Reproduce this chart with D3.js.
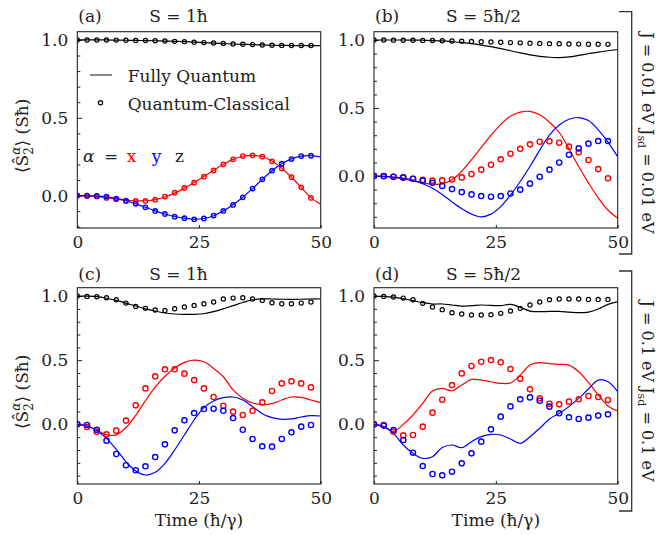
<!DOCTYPE html>
<html>
<head>
<meta charset="utf-8">
<script src="https://cdn.jsdelivr.net/npm/d3@7"></script>
<style>
  body { margin: 0; background: #fff; }
  svg { display: block; }
  text { font-family: "DejaVu Serif", serif; fill: #222; }
</style>
</head>
<body>
<svg id="chart" width="659" height="535"></svg>
<script>
// Sampling times (ħ/γ): markers every 2, curves up to 50
const timeMarks = [0, 2, 4, 6, 8, 10, 12, 14, 16, 18, 20, 22, 24, 26, 28, 30, 32, 34, 36, 38, 40, 42, 44, 46, 48];
const timeLine  = [0, 2, 4, 6, 8, 10, 12, 14, 16, 18, 20, 22, 24, 26, 28, 30, 32, 34, 36, 38, 40, 42, 44, 46, 48, 50];
const xTicks = [0, 25, 50];
const yMajorTicks = [0, 0.5, 1];
const panelLetters = ["(a)", "(b)", "(c)", "(d)"];
const panelTitles = ["S = 1ħ", "S = 5ħ/2", "S = 1ħ", "S = 5ħ/2"];
const componentNames = ["x", "y", "z"];
const legendLabels = ["Fully Quantum", "Quantum-Classical"];
const couplingLabels = [["J = 0.01 eV J", "sd", " = 0.01 eV"], ["J = 0.1 eV J", "sd", " = 0.1 eV"]];

// (a) J = 0.01 eV, S = 1ħ — fully quantum curves
const aLineX = [0, -0.002, -0.006, -0.013, -0.022, -0.029, -0.033, -0.033, -0.026, -0.009, 0.016, 0.048, 0.084, 0.123, 0.163, 0.201, 0.233, 0.253, 0.259, 0.251, 0.222, 0.176, 0.118, 0.053, -0.013, -0.055];
const aLineY = [0, 0, -0.003, -0.008, -0.018, -0.033, -0.053, -0.075, -0.098, -0.118, -0.134, -0.145, -0.151, -0.147, -0.129, -0.098, -0.058, -0.01, 0.045, 0.104, 0.16, 0.205, 0.236, 0.254, 0.257, 0.248];
const aLineZ = [1.0, 1.0, 1.0, 1.0, 0.999, 0.998, 0.997, 0.996, 0.995, 0.993, 0.991, 0.989, 0.986, 0.983, 0.98, 0.977, 0.974, 0.972, 0.97, 0.968, 0.966, 0.965, 0.964, 0.964, 0.964, 0.964];
// (a) quantum-classical markers
const aMarkX = [0, -0.002, -0.005, -0.015, -0.024, -0.032, -0.034, -0.034, -0.026, -0.006, 0.019, 0.049, 0.083, 0.122, 0.162, 0.201, 0.233, 0.254, 0.259, 0.25, 0.22, 0.175, 0.118, 0.053, -0.015];
const aMarkY = [0, 0, -0.002, -0.006, -0.019, -0.034, -0.053, -0.075, -0.098, -0.118, -0.135, -0.145, -0.152, -0.147, -0.128, -0.098, -0.06, -0.011, 0.045, 0.105, 0.16, 0.205, 0.235, 0.254, 0.256];
const aMarkZ = [1.0, 1.0, 1.0, 1.0, 0.999, 0.998, 0.997, 0.996, 0.995, 0.993, 0.991, 0.989, 0.986, 0.983, 0.98, 0.977, 0.974, 0.972, 0.97, 0.968, 0.966, 0.965, 0.964, 0.964, 0.964];

// (b) J = 0.01 eV, S = 5ħ/2
const bLineX = [0, -0.003, -0.01, -0.022, -0.036, -0.05, -0.06, -0.058, -0.028, 0.035, 0.12, 0.21, 0.3, 0.38, 0.44, 0.47, 0.475, 0.45, 0.395, 0.32, 0.2, 0.07, -0.05, -0.16, -0.25, -0.31];
const bLineY = [0, -0.002, -0.007, -0.015, -0.03, -0.057, -0.09, -0.135, -0.19, -0.24, -0.28, -0.3, -0.28, -0.225, -0.14, -0.04, 0.07, 0.19, 0.3, 0.375, 0.417, 0.43, 0.408, 0.34, 0.25, 0.142];
const bLineZ = [1.0, 1.0, 1.0, 1.0, 0.999, 0.998, 0.996, 0.993, 0.988, 0.982, 0.973, 0.963, 0.951, 0.937, 0.921, 0.905, 0.891, 0.88, 0.873, 0.871, 0.876, 0.887, 0.899, 0.911, 0.921, 0.93];
const bMarkX = [0, -0.002, -0.005, -0.012, -0.02, -0.028, -0.034, -0.032, -0.025, -0.01, 0.015, 0.047, 0.083, 0.123, 0.164, 0.2, 0.233, 0.252, 0.255, 0.245, 0.216, 0.174, 0.118, 0.051, -0.017];
const bMarkY = [0, 0, -0.005, -0.01, -0.02, -0.034, -0.05, -0.073, -0.096, -0.118, -0.135, -0.147, -0.152, -0.147, -0.128, -0.1, -0.056, -0.005, 0.047, 0.1, 0.157, 0.203, 0.238, 0.257, 0.257];
const bMarkZ = [1.0, 1.0, 0.999, 0.998, 0.998, 0.997, 0.996, 0.995, 0.993, 0.991, 0.989, 0.987, 0.985, 0.983, 0.981, 0.979, 0.977, 0.975, 0.973, 0.972, 0.971, 0.97, 0.969, 0.969, 0.968];

// (c) J = 0.1 eV, S = 1ħ
const cLineX = [0, -0.013, -0.045, -0.082, -0.082, -0.025, 0.07, 0.185, 0.29, 0.375, 0.44, 0.483, 0.5, 0.488, 0.436, 0.371, 0.268, 0.203, 0.166, 0.153, 0.161, 0.19, 0.213, 0.21, 0.19, 0.169];
const cLineY = [0, -0.013, -0.049, -0.109, -0.195, -0.291, -0.364, -0.395, -0.374, -0.304, -0.2, -0.083, 0.034, 0.13, 0.182, 0.208, 0.213, 0.19, 0.138, 0.083, 0.052, 0.039, 0.042, 0.057, 0.068, 0.065];
const cLineZ = [1.0, 0.999, 0.995, 0.983, 0.966, 0.945, 0.922, 0.9, 0.883, 0.868, 0.86, 0.857, 0.857, 0.862, 0.878, 0.9, 0.925, 0.95, 0.971, 0.978, 0.977, 0.975, 0.974, 0.975, 0.977, 0.977];
const cMarkX = [0, -0.021, -0.057, -0.078, -0.049, 0.029, 0.148, 0.28, 0.374, 0.429, 0.429, 0.395, 0.345, 0.28, 0.213, 0.145, 0.099, 0.073, 0.106, 0.171, 0.26, 0.319, 0.335, 0.319, 0.288];
const cMarkY = [0, -0.005, -0.042, -0.127, -0.231, -0.319, -0.358, -0.327, -0.255, -0.156, -0.047, 0.031, 0.088, 0.119, 0.122, 0.106, 0.049, -0.042, -0.114, -0.171, -0.174, -0.114, -0.062, -0.018, -0.005];
const cMarkZ = [1.0, 0.997, 0.995, 0.987, 0.971, 0.945, 0.919, 0.904, 0.891, 0.888, 0.901, 0.914, 0.927, 0.94, 0.953, 0.977, 0.984, 0.987, 0.977, 0.966, 0.948, 0.94, 0.94, 0.945, 0.953];

// (d) J = 0.1 eV, S = 5ħ/2
const dLineX = [0, -0.018, -0.055, 0.0, 0.073, 0.164, 0.26, 0.28, 0.262, 0.306, 0.35, 0.345, 0.332, 0.32, 0.322, 0.384, 0.462, 0.481, 0.473, 0.468, 0.462, 0.41, 0.327, 0.229, 0.143, 0.104];
const dLineY = [0, -0.018, -0.07, -0.161, -0.226, -0.265, -0.252, -0.18, -0.161, -0.182, -0.135, -0.096, -0.078, -0.083, -0.114, -0.148, -0.096, -0.031, 0.042, 0.086, 0.138, 0.203, 0.275, 0.345, 0.332, 0.255];
const dLineZ = [1.0, 0.997, 0.992, 0.979, 0.964, 0.948, 0.938, 0.938, 0.93, 0.922, 0.925, 0.93, 0.927, 0.925, 0.935, 0.912, 0.883, 0.878, 0.88, 0.88, 0.875, 0.87, 0.875, 0.899, 0.935, 0.956];
const dMarkX = [0, -0.005, -0.057, -0.086, -0.083, -0.018, 0.091, 0.192, 0.306, 0.397, 0.455, 0.488, 0.501, 0.483, 0.431, 0.356, 0.273, 0.203, 0.161, 0.156, 0.177, 0.195, 0.221, 0.213, 0.19];
const dMarkY = [0, -0.01, -0.044, -0.122, -0.221, -0.325, -0.387, -0.397, -0.369, -0.304, -0.226, -0.135, -0.039, 0.06, 0.14, 0.195, 0.21, 0.184, 0.138, 0.086, 0.055, 0.042, 0.052, 0.068, 0.078];
const dMarkZ = [1.0, 0.997, 0.992, 0.984, 0.971, 0.943, 0.914, 0.894, 0.87, 0.86, 0.852, 0.852, 0.855, 0.865, 0.883, 0.904, 0.93, 0.953, 0.971, 0.977, 0.977, 0.977, 0.974, 0.974, 0.974];

const colors = { x: "#ff0000", y: "#0000ff", z: "#000000" };

const svg = d3.select("#chart");
const FS = 17;

// panel geometry
const panels = [
  { left: 77.3, right: 320.7, top: 31.7, bottom: 228, yDomain: [-0.208, 1.053], titleY: 22,
    lines: { x: aLineX, y: aLineY, z: aLineZ }, marks: { x: aMarkX, y: aMarkY, z: aMarkZ }, r: 2.2, yLabel: true, xLabel: false },
  { left: 374, right: 617.7, top: 31.7, bottom: 228, yDomain: [-0.382, 1.061], titleY: 22,
    lines: { x: bLineX, y: bLineY, z: bLineZ }, marks: { x: bMarkX, y: bMarkY, z: bMarkZ }, r: 2.6, yLabel: false, xLabel: false },
  { left: 77.3, right: 320.7, top: 287.7, bottom: 484, yDomain: [-0.465, 1.065], titleY: 280,
    lines: { x: cLineX, y: cLineY, z: cLineZ }, marks: { x: cMarkX, y: cMarkY, z: cMarkZ }, r: 2.6, yLabel: true, xLabel: true },
  { left: 374, right: 617.7, top: 287.7, bottom: 484, yDomain: [-0.465, 1.065], titleY: 280,
    lines: { x: dLineX, y: dLineY, z: dLineZ }, marks: { x: dMarkX, y: dMarkY, z: dMarkZ }, r: 2.6, yLabel: false, xLabel: true }
];

panels.forEach((p, i) => {
  const x = d3.scaleLinear().domain([0, 50]).range([p.left, p.right]);
  const y = d3.scaleLinear().domain(p.yDomain).range([p.bottom, p.top]);
  const g = svg.append("g");

  const clipId = "clip" + i;
  g.append("clipPath").attr("id", clipId)
    .append("rect").attr("x", p.left).attr("y", p.top)
    .attr("width", p.right - p.left).attr("height", p.bottom - p.top);

  // minor y ticks every 0.1
  const minor = d3.range(Math.ceil(p.yDomain[0] * 10), Math.floor(p.yDomain[1] * 10) + 1)
    .map(k => k / 10).filter(v => !yMajorTicks.some(m => Math.abs(m - v) < 1e-9));
  g.append("g").attr("transform", `translate(${p.left},0)`)
    .call(d3.axisLeft(y).tickValues(minor).tickSizeInner(-3).tickSizeOuter(0).tickFormat(""))
    .call(a => a.select(".domain").remove())
    .call(a => a.selectAll("line").attr("stroke", "#222"));

  // major y ticks with labels
  g.append("g").attr("transform", `translate(${p.left},0)`)
    .call(d3.axisLeft(y).tickValues(yMajorTicks).tickSizeInner(-5).tickSizeOuter(0)
      .tickPadding(9).tickFormat(d3.format(".1f")))
    .call(a => a.select(".domain").remove())
    .call(a => a.selectAll("line").attr("stroke", "#222"))
    .call(a => a.selectAll("text").attr("font-size", FS).attr("font-family", "DejaVu Serif").attr("fill", "#222"));

  // x ticks
  g.append("g").attr("transform", `translate(0,${p.bottom})`)
    .call(d3.axisBottom(x).tickValues(xTicks).tickSizeInner(-3).tickSizeOuter(0).tickPadding(8))
    .call(a => a.select(".domain").remove())
    .call(a => a.selectAll("line").attr("stroke", "#222"))
    .call(a => a.selectAll("text").attr("font-size", FS).attr("font-family", "DejaVu Serif").attr("fill", "#222"));

  // data
  const plot = g.append("g").attr("clip-path", `url(#${clipId})`);
  const line = d3.line().x((d, k) => x(timeLine[k])).y(d => y(d)).curve(d3.curveCatmullRom);
  ["z", "x", "y"].forEach(c => {
    plot.append("path").attr("d", line(p.lines[c]))
      .attr("fill", "none").attr("stroke", colors[c]).attr("stroke-width", 1.2);
  });
  ["z", "x", "y"].forEach(c => {
    const r = c === "z" ? 2.1 : p.r;
    plot.append("g").selectAll("circle").data(p.marks[c]).join("circle")
      .attr("cx", (d, k) => x(timeMarks[k])).attr("cy", d => y(d)).attr("r", r)
      .attr("fill", "none").attr("stroke", colors[c]).attr("stroke-width", c === "z" ? 1.2 : 1.4);
  });

  // frame
  g.append("rect").attr("x", p.left).attr("y", p.top)
    .attr("width", p.right - p.left).attr("height", p.bottom - p.top)
    .attr("fill", "none").attr("stroke", "#222").attr("stroke-width", 1.1);

  // titles
  g.append("text").attr("x", p.left + 1).attr("y", p.titleY).attr("font-size", FS).text(panelLetters[i]);
  g.append("text").attr("x", p.left + 72).attr("y", p.titleY).attr("font-size", FS).text(panelTitles[i]);

  if (p.yLabel) {
    const cy = (p.top + p.bottom) / 2 + 6;
    const t = g.append("text").attr("transform", `translate(28,${cy}) rotate(-90)`)
      .attr("text-anchor", "middle").attr("font-size", FS);
    t.append("tspan").text("⟨Ŝ");
    t.append("tspan").attr("font-size", 12).attr("dy", 5).text("2");
    t.append("tspan").attr("font-size", 12).attr("dx", -7.5).attr("dy", -13).attr("font-style", "italic").text("α");
    t.append("tspan").attr("dy", 8).text("⟩ (Sħ)");
  }
  if (p.xLabel) {
    g.append("text").attr("x", (p.left + p.right) / 2).attr("y", 526)
      .attr("text-anchor", "middle").attr("font-size", FS).text("Time (ħ/γ)");
  }
});

// legend inside panel (a)
const lg = svg.append("g");
lg.append("line").attr("x1", 90).attr("x2", 112).attr("y1", 75).attr("y2", 75)
  .attr("stroke", "#555").attr("stroke-width", 1.4);
lg.append("text").attr("x", 127.7).attr("y", 82).attr("font-size", FS).text(legendLabels[0]);
lg.append("circle").attr("cx", 100.5).attr("cy", 102.7).attr("r", 2.1)
  .attr("fill", "none").attr("stroke", "#000").attr("stroke-width", 1.2);
lg.append("text").attr("x", 127.7).attr("y", 109.5).attr("font-size", FS).text(legendLabels[1]);

// component colour key
const keyX = [126.7, 151.7, 175];
lg.append("text").attr("x", 83).attr("y", 162).attr("font-size", FS)
  .attr("font-style", "italic").text("α");
lg.append("text").attr("x", 104).attr("y", 162).attr("font-size", FS).text("=");
componentNames.forEach((c, k) => {
  lg.append("text").attr("x", keyX[k]).attr("y", 162).attr("font-size", FS)
    .style("fill", colors[c] === "#000000" ? "#222" : colors[c]).text(c);
});

// coupling brackets on the right
const brackets = [{ top: 11.7, bottom: 254 }, { top: 271, bottom: 511 }];
brackets.forEach((b, k) => {
  svg.append("path")
    .attr("d", `M619,${b.top}H631.7V${b.bottom}H619`)
    .attr("fill", "none").attr("stroke", "#333").attr("stroke-width", 1.3);
  const cy = (b.top + b.bottom) / 2;
  const t = svg.append("text").attr("transform", `translate(642,${cy}) rotate(90)`)
    .attr("text-anchor", "middle").attr("font-size", 16);
  t.append("tspan").text(couplingLabels[k][0]);
  t.append("tspan").attr("font-size", 11).attr("dy", 4).text(couplingLabels[k][1]);
  t.append("tspan").attr("dy", -4).text(couplingLabels[k][2]);
});
</script>
</body>
</html>
